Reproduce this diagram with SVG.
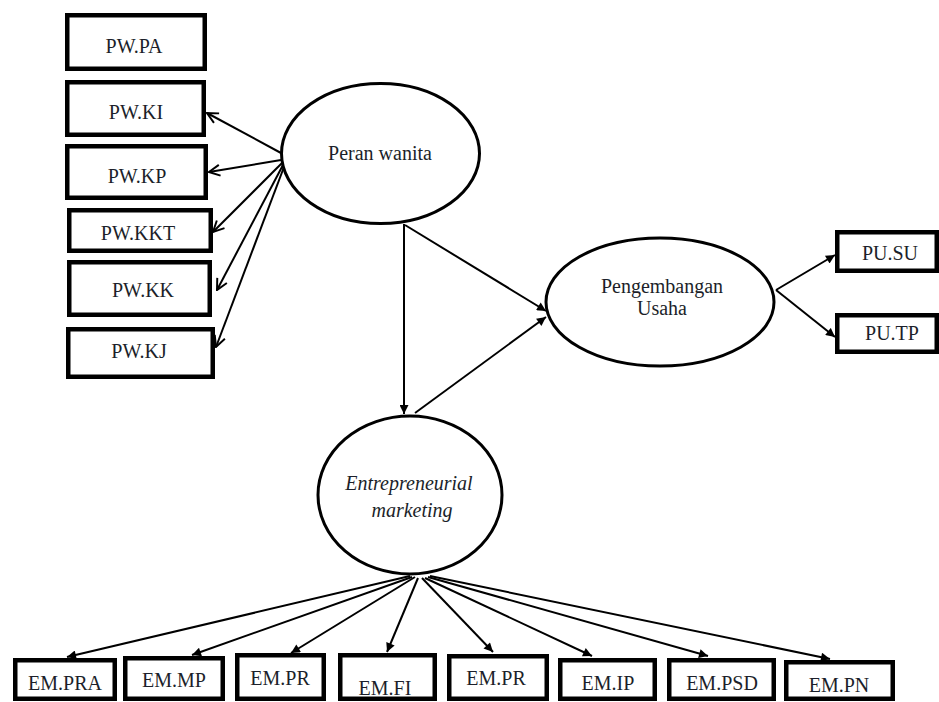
<svg xmlns="http://www.w3.org/2000/svg" width="939" height="702" viewBox="0 0 939 702">
<style>
.box{fill:#fff;stroke:#000;stroke-width:4.5}
.ell{fill:#fff;stroke:#000;stroke-width:3}
.ln{stroke:#000;stroke-width:2;fill:none}
.fa{marker-end:url(#tri)}
.va{marker-end:url(#vee)}
</style>
<defs>
<marker id="tri" viewBox="0 0 10 10" refX="10" refY="5" markerWidth="11" markerHeight="9" markerUnits="userSpaceOnUse" orient="auto"><path d="M0,0 L10,5 L0,10 z" fill="#000"/></marker>
<marker id="vee" viewBox="0 0 12 12" refX="11" refY="6" markerWidth="13" markerHeight="13" markerUnits="userSpaceOnUse" orient="auto"><path d="M1,1 L11,6 L1,11" fill="none" stroke="#000" stroke-width="1.8"/></marker>
</defs>
<rect width="939" height="702" fill="#fff"/>
<g id="connectors">
<line class="ln va" x1="281" y1="153" x2="207" y2="113"/>
<line class="ln va" x1="281" y1="160" x2="209" y2="172"/>
<line class="ln va" x1="282" y1="163" x2="213" y2="232"/>
<line class="ln va" x1="283" y1="165" x2="217" y2="290"/>
<line class="ln va" x1="284" y1="167" x2="216" y2="347"/>
<line class="ln fa" x1="404" y1="224" x2="404" y2="414"/>
<line class="ln fa" x1="405" y1="225" x2="546" y2="311"/>
<line class="ln fa" x1="415" y1="413" x2="546" y2="317"/>
<line class="ln fa" x1="776" y1="290" x2="835" y2="255"/>
<line class="ln fa" x1="776" y1="290" x2="835" y2="337"/>
<line class="ln fa" x1="410" y1="576" x2="67" y2="657"/>
<line class="ln fa" x1="412" y1="577" x2="192" y2="655"/>
<line class="ln fa" x1="415" y1="577" x2="291" y2="653"/>
<line class="ln fa" x1="418" y1="578" x2="387" y2="652"/>
<line class="ln fa" x1="422" y1="578" x2="493" y2="652"/>
<line class="ln fa" x1="425" y1="578" x2="592" y2="656"/>
<line class="ln fa" x1="428" y1="577" x2="708" y2="656"/>
<line class="ln fa" x1="430" y1="576" x2="830" y2="659"/>
</g>
<g font-family="Liberation Serif, Times New Roman, DejaVu Serif, serif" font-size="20" fill="#1c1f2a" text-anchor="middle">
<g id="peran-wanita"><ellipse class="ell" cx="380.5" cy="153.5" rx="99" ry="70"/><text x="380" y="160">Peran wanita</text></g>
<g id="pengembangan-usaha"><ellipse class="ell" cx="660" cy="302" rx="114" ry="64"/><text x="662" y="293">Pengembangan</text><text x="662" y="315">Usaha</text></g>
<g id="entrepreneurial-marketing"><ellipse class="ell" cx="410" cy="495" rx="92" ry="79"/><text font-style="italic" x="409" y="490">Entrepreneurial</text><text font-style="italic" x="412" y="517">marketing</text></g>
<g id="pw-pa"><rect class="box" x="67.25" y="15.25" width="137.5" height="53.5"/><text x="134" y="53">PW.PA</text></g>
<g id="pw-ki"><rect class="box" x="67.25" y="82.25" width="136.5" height="52.5"/><text x="136" y="119">PW.KI</text></g>
<g id="pw-kp"><rect class="box" x="67.25" y="146.25" width="138.5" height="51.5"/><text x="137" y="183">PW.KP</text></g>
<g id="pw-kkt"><rect class="box" x="69.25" y="210.25" width="141.5" height="40.5"/><text x="138" y="240">PW.KKT</text></g>
<g id="pw-kk"><rect class="box" x="69.25" y="262.25" width="140.5" height="52.5"/><text x="143" y="297">PW.KK</text></g>
<g id="pw-kj"><rect class="box" x="68.25" y="329.25" width="144.5" height="47.5"/><text x="139" y="358">PW.KJ</text></g>
<g id="pu-su"><rect class="box" x="837.25" y="232.25" width="99.5" height="38.5"/><text x="890" y="260">PU.SU</text></g>
<g id="pu-tp"><rect class="box" x="837.25" y="315.25" width="99.5" height="36.5"/><text x="892" y="340">PU.TP</text></g>
<g id="em-pra"><rect class="box" x="15.25" y="660.25" width="99.5" height="38.5"/><text x="65" y="690">EM.PRA</text></g>
<g id="em-mp"><rect class="box" x="125.25" y="658.25" width="97.5" height="40.5"/><text x="174" y="687">EM.MP</text></g>
<g id="em-pr-1"><rect class="box" x="237.25" y="655.25" width="86.5" height="43.5"/><text x="280" y="685">EM.PR</text></g>
<g id="em-fi"><rect class="box" x="340.25" y="655.25" width="94.5" height="43.5"/><text x="385" y="695">EM.FI</text></g>
<g id="em-pr-2"><rect class="box" x="449.25" y="656.25" width="97.5" height="42.5"/><text x="496" y="685">EM.PR</text></g>
<g id="em-ip"><rect class="box" x="560.25" y="660.25" width="94.5" height="38.5"/><text x="608" y="690">EM.IP</text></g>
<g id="em-psd"><rect class="box" x="669.25" y="660.25" width="104.5" height="38.5"/><text x="722" y="690">EM.PSD</text></g>
<g id="em-pn"><rect class="box" x="786.25" y="662.25" width="106.5" height="36.5"/><text x="839" y="692">EM.PN</text></g>
</g>
</svg>
